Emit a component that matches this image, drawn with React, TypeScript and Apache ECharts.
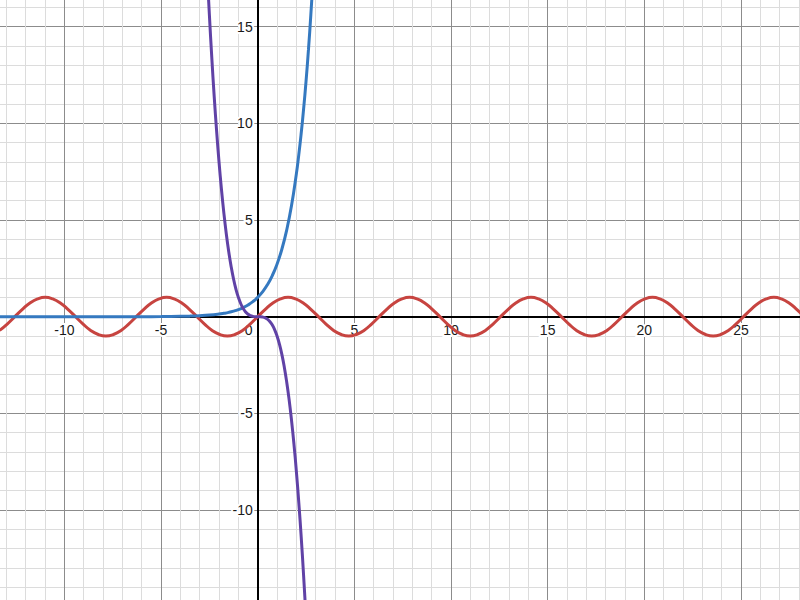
import React, { useEffect, useRef } from "react";
import * as echarts from "echarts";

// red curve (wave)
const waveX = [
  -13.352, -12.959, -12.566, -12.174, -11.781, -11.388, -10.996, -10.603,
  -10.21, -9.817, -9.425, -9.032, -8.639, -8.247, -7.854, -7.461, -7.069,
  -6.676, -6.283, -5.89, -5.498, -5.105, -4.712, -4.32, -3.927, -3.534, -3.142,
  -2.749, -2.356, -1.963, -1.571, -1.178, -0.785, -0.393, 0, 0.393, 0.785,
  1.178, 1.571, 1.963, 2.356, 2.749, 3.142, 3.534, 3.927, 4.32, 4.712, 5.105,
  5.498, 5.89, 6.283, 6.676, 7.069, 7.461, 7.854, 8.247, 8.639, 9.032, 9.425,
  9.817, 10.21, 10.603, 10.996, 11.388, 11.781, 12.174, 12.566, 12.959, 13.352,
  13.744, 14.137, 14.53, 14.923, 15.315, 15.708, 16.101, 16.493, 16.886, 17.279,
  17.671, 18.064, 18.457, 18.85, 19.242, 19.635, 20.028, 20.42, 20.813, 21.206,
  21.598, 21.991, 22.384, 22.777, 23.169, 23.562, 23.955, 24.347, 24.74, 25.133,
  25.525, 25.918, 26.311, 26.704, 27.096, 27.489, 27.882, 28.274,
];
const waveY = [
  -0.71, -0.38, 0, 0.38, 0.71, 0.92, 1, 0.92, 0.71, 0.38, 0, -0.38, -0.71,
  -0.92, -1, -0.92, -0.71, -0.38, 0, 0.38, 0.71, 0.92, 1, 0.92, 0.71, 0.38, 0,
  -0.38, -0.71, -0.92, -1, -0.92, -0.71, -0.38, 0, 0.38, 0.71, 0.92, 1, 0.92,
  0.71, 0.38, 0, -0.38, -0.71, -0.92, -1, -0.92, -0.71, -0.38, 0, 0.38, 0.71,
  0.92, 1, 0.92, 0.71, 0.38, 0, -0.38, -0.71, -0.92, -1, -0.92, -0.71, -0.38, 0,
  0.38, 0.71, 0.92, 1, 0.92, 0.71, 0.38, 0, -0.38, -0.71, -0.92, -1, -0.92,
  -0.71, -0.38, 0, 0.38, 0.71, 0.92, 1, 0.92, 0.71, 0.38, 0, -0.38, -0.71,
  -0.92, -1, -0.92, -0.71, -0.38, 0, 0.38, 0.71, 0.92, 1, 0.92, 0.71, 0.38, 0,
];

// blue curve (growth)
const growthX = [
  -15, -10, -8, -6, -5, -4, -3.5, -3, -2.5, -2, -1.75, -1.5, -1.25, -1, -0.75,
  -0.5, -0.25, 0, 0.25, 0.5, 0.75, 1, 1.25, 1.5, 1.75, 2, 2.125, 2.25, 2.375,
  2.5, 2.625, 2.75, 2.875, 3,
];
const growthY = [
  0, 0.00005, 0.0003, 0.0025, 0.0067, 0.018, 0.03, 0.05, 0.082, 0.135, 0.174,
  0.223, 0.287, 0.368, 0.472, 0.607, 0.779, 1, 1.284, 1.649, 2.117, 2.718, 3.49,
  4.48, 5.75, 7.39, 8.37, 9.49, 10.75, 12.18, 13.8, 15.64, 17.72, 20.09,
];

// purple curve (falling cubic)
const cubicX = [
  -2.75, -2.625, -2.5, -2.375, -2.25, -2.125, -2, -1.875, -1.75, -1.625, -1.5,
  -1.375, -1.25, -1.125, -1, -0.875, -0.75, -0.625, -0.5, -0.375, -0.25,
  -0.125, 0, 0.125, 0.25, 0.375, 0.5, 0.625, 0.75, 0.875, 1, 1.125, 1.25,
  1.375, 1.5, 1.625, 1.75, 1.875, 2, 2.125, 2.25, 2.375, 2.5, 2.625, 2.75,
];
const cubicY = [
  20.8, 18.09, 15.63, 13.4, 11.39, 9.6, 8, 6.59, 5.36, 4.29, 3.375, 2.6, 1.95,
  1.42, 1, 0.67, 0.42, 0.244, 0.125, 0.053, 0.016, 0.002, 0, -0.002, -0.016,
  -0.053, -0.125, -0.244, -0.42, -0.67, -1, -1.42, -1.95, -2.6, -3.375, -4.29,
  -5.36, -6.59, -8, -9.6, -11.39, -13.4, -15.63, -18.09, -20.8,
];

const xTicks = [-10, -5, 0, 5, 10, 15, 20, 25];
const yTicks = [-10, -5, 5, 10, 15];

const pairs = (xs: number[], ys: number[]) => xs.map((x, i) => [x, ys[i]]);

const font = "'Liberation Sans', Arial, sans-serif";

const App = () => {
  const chartRef = useRef<HTMLDivElement>(null);

  useEffect(() => {
    if (!chartRef.current) return;
    const chart = echarts.init(chartRef.current, null, { renderer: "svg" });

    const axisBase = {
      type: "value" as const,
      interval: 5,
      // axis moved onto the origin with offset (grid edge sits at -15 on both axes)
      offset: -289.95,
      axisLine: { show: true, onZero: false, lineStyle: { color: "#000", width: 2 } },
      axisTick: { show: false },
      splitLine: { show: true, lineStyle: { color: "#8c8c8c", width: 1 } },
      minorTick: { show: false, splitNumber: 5 },
      minorSplitLine: { show: true, lineStyle: { color: "#dcdcdc", width: 1 } },
    };

    const labelStyle = {
      color: "#1a1a1a",
      fontFamily: font,
      fontSize: 14,
      textBorderColor: "#fff",
      textBorderWidth: 4,
    };

    chart.setOption({
      animation: false,
      backgroundColor: "#fff",
      grid: {
        left: -32.25,
        right: -37.6,
        top: -69.9,
        bottom: -6.65,
        containLabel: false,
        outerBoundsMode: "none",
      },
      xAxis: {
        ...axisBase,
        min: -15,
        max: 30,
        axisLabel: {
          ...labelStyle,
          margin: 6,
          formatter: (v: number) =>
            xTicks.includes(v) ? (v === 0 ? "{z|0}" : String(v)) : "",
          rich: { z: { ...labelStyle, padding: [0, 18, 0, 0] } },
        },
      },
      yAxis: {
        ...axisBase,
        min: -15,
        max: 20,
        axisLabel: {
          ...labelStyle,
          margin: 5,
          formatter: (v: number) => (yTicks.includes(v) ? String(v) : ""),
        },
      },
      series: [
        {
          type: "line",
          data: pairs(waveX, waveY),
          smooth: true,
          showSymbol: false,
          lineStyle: { color: "#c74440", width: 3 },
          z: 3,
        },
        {
          type: "line",
          data: pairs(growthX, growthY),
          smooth: true,
          showSymbol: false,
          lineStyle: { color: "#3579c0", width: 3 },
          z: 4,
        },
        {
          type: "line",
          data: pairs(cubicX, cubicY),
          smooth: true,
          showSymbol: false,
          lineStyle: { color: "#6042a6", width: 3 },
          z: 5,
        },
      ],
    });

    return () => {
      chart.dispose();
    };
  }, []);

  return (
    <div
      ref={chartRef}
      style={{
        position: "fixed",
        left: 0,
        top: 0,
        width: "800px",
        height: "600px",
        overflow: "hidden",
      }}
    />
  );
};

export default App;
